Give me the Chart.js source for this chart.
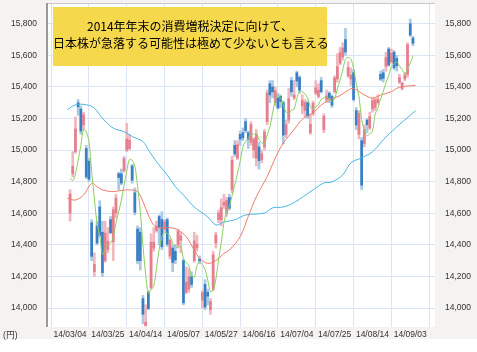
<!DOCTYPE html>
<html><head><meta charset="utf-8">
<script src="https://cdn.jsdelivr.net/npm/chart.js@4.4.0/dist/chart.umd.min.js"></script>
<style>
html,body{margin:0;padding:0;background:#fff;}
#wrap{position:relative;width:477px;height:352px;overflow:hidden;}
canvas{position:absolute;left:0;top:0;}
#title{position:absolute;left:53px;top:7px;width:274px;height:59px;background:#f6d84c;font-family:"Noto Sans CJK JP";font-size:12px;line-height:17px;color:#000;text-align:center;box-sizing:border-box;padding-top:10px;white-space:nowrap;}
#unit{position:absolute;left:3px;top:330px;font-family:"Liberation Sans",Arial,sans-serif;font-size:8.5px;line-height:10px;color:#333;}
</style></head><body>
<div id="wrap"><canvas id="c" width="477" height="352"></canvas>
<div id="title">2014年年末の消費増税決定に向けて、<br>日本株が急落する可能性は極めて少ないとも言える</div>
<div id="unit">(円)</div></div>
<script>
const dates = ["14/03/04","14/03/05","14/03/06","14/03/07","14/03/10","14/03/11","14/03/12","14/03/13","14/03/14","14/03/17","14/03/18","14/03/19","14/03/20","14/03/24","14/03/25","14/03/26","14/03/27","14/03/28","14/03/31",
"14/04/01","14/04/02","14/04/03","14/04/04","14/04/07","14/04/08","14/04/09","14/04/10","14/04/11","14/04/14","14/04/15","14/04/16","14/04/17","14/04/18","14/04/21","14/04/22","14/04/23","14/04/24","14/04/25","14/04/28","14/04/30",
"14/05/01","14/05/02","14/05/07","14/05/08","14/05/09","14/05/12","14/05/13","14/05/14","14/05/15","14/05/16","14/05/19","14/05/20","14/05/21","14/05/22","14/05/23","14/05/26","14/05/27","14/05/28","14/05/29","14/05/30",
"14/06/02","14/06/03","14/06/04","14/06/05","14/06/06","14/06/09","14/06/10","14/06/11","14/06/12","14/06/13","14/06/16","14/06/17","14/06/18","14/06/19","14/06/20","14/06/23","14/06/24","14/06/25","14/06/26","14/06/27","14/06/30",
"14/07/01","14/07/02","14/07/03","14/07/04","14/07/07","14/07/08","14/07/09","14/07/10","14/07/11","14/07/14","14/07/15","14/07/16","14/07/17","14/07/18","14/07/22","14/07/23","14/07/24","14/07/25","14/07/28","14/07/29","14/07/30","14/07/31",
"14/08/01","14/08/04","14/08/05","14/08/06","14/08/07","14/08/08","14/08/11","14/08/12","14/08/13","14/08/14","14/08/15","14/08/18","14/08/19","14/08/20","14/08/21","14/08/22","14/08/25","14/08/26","14/08/27","14/08/28","14/08/29",
"14/09/01","14/09/02","14/09/03","14/09/04"];

const openP = [14600,14850,14990,15300,15260,15160,15010,14930,14540,14230,14520,14640,14480,14300,14370,14560,14420,14600,14850,14850,
14870,15000,15010,14900,14730,14500,14480,14060,13890,14100,14130,14380,14490,14580,14560,14500,14560,14330,14380,14360,
14400,14430,14300,14100,14120,14200,14300,14380,14310,14050,14150,14100,13990,14120,14410,14560,14560,14650,14600,14700,
14750,15030,14950,15100,15110,15180,15110,15050,15000,14950,15020,14940,15020,15180,15420,15400,15300,15330,15340,15300,
15100,15190,15440,15330,15490,15460,15280,15250,15300,15110,15230,15360,15340,15440,15130,15320,15360,15340,15370,15450,
15550,15590,15700,15470,15450,15490,15250,15100,15060,15040,15190,15140,15260,15270,15300,15480,15490,15530,15640,15560,
15620,15580,15430,15390,15450,15480,15800,15710];
const highP = [14750,14990,15210,15320,15280,15240,15030,14950,14560,14350,14550,14680,14550,14550,14510,14580,14640,14720,14860,14880,
14960,15170,15100,14910,14760,14520,14510,14080,14020,14110,14470,14510,14550,14590,14610,14560,14570,14440,14400,14400,
14500,14480,14310,14260,14250,14230,14480,14460,14330,14110,14180,14120,14060,14360,14480,14620,14690,14720,14700,14720,
14960,15060,15060,15120,15140,15200,15120,15180,15080,15130,15050,15000,15130,15380,15440,15440,15400,15360,15350,15310,
15190,15390,15460,15440,15500,15470,15350,15320,15310,15230,15310,15440,15420,15460,15230,15380,15370,15350,15470,15610,
15650,15680,15770,15560,15520,15510,15270,15250,15080,15160,15200,15240,15330,15330,15350,15500,15510,15620,15650,15640,
15630,15600,15480,15430,15490,15680,15830,15720];
const lowP = [14550,14830,14980,15220,15100,15130,14820,14800,14300,14200,14400,14450,14200,14290,14350,14470,14300,14570,14750,14780,
14860,14990,15000,14790,14590,14280,14240,13900,13885,13990,14120,14360,14480,14400,14370,14480,14390,14310,14230,14280,
14380,14350,14020,14090,14100,14130,14290,14360,14280,14000,13990,14020,13960,14110,14380,14540,14520,14630,14580,14620,
14730,14960,14940,15030,15060,15110,15010,15030,14950,14900,14880,14920,15000,15160,15300,15330,15280,15260,15270,15040,
15080,15170,15340,15320,15400,15360,15230,15210,15200,15100,15220,15350,15330,15360,15110,15300,15300,15270,15360,15430,
15540,15570,15600,15460,15410,15310,15130,15070,14750,15020,15110,15130,15240,15250,15290,15440,15430,15500,15530,15550,
15510,15500,15420,15380,15440,15460,15720,15660];
const closeP = [14721,14897,15134,15274,15120,15224,14830,14815,14327,14277,14411,14462,14224,14475,14423,14477,14622,14696,14827,14791,
14946,15071,15063,14809,14606,14299,14300,13960,13910,13996,14417,14417,14516,14512,14388,14546,14404,14429,14288,14304,
14485,14457,14033,14163,14199,14149,14425,14405,14298,14097,14006,14075,14042,14337,14462,14602,14636,14670,14681,14632,
14935,14976,15034,15069,15077,15124,15069,15162,15069,15097,14933,14975,15115,15361,15349,15369,15376,15266,15308,15095,
15162,15326,15369,15348,15437,15379,15314,15302,15216,15164,15297,15395,15379,15370,15215,15343,15328,15284,15457,15529,
15618,15646,15621,15523,15474,15320,15159,15232,14778,15130,15161,15213,15314,15318,15322,15449,15454,15586,15539,15613,
15521,15534,15459,15424,15476,15668,15728,15676];

const ma5 = [14822,14807,14849,14936,15029,15130,15116,15053,14863,14695,14532,14458,14340,14370,14399,14412,14444,14539,14609,14683,
14776,14866,14940,14936,14899,14770,14615,14395,14215,14093,14117,14140,14251,14372,14450,14476,14473,14456,14411,14394,
14382,14393,14313,14288,14267,14200,14194,14268,14295,14275,14246,14176,14104,14111,14184,14304,14416,14541,14610,14644,
14711,14779,14852,14929,15018,15056,15075,15100,15100,15104,15066,15047,15038,15096,15147,15234,15314,15344,15334,15283,
15241,15231,15252,15260,15328,15372,15369,15356,15330,15275,15259,15275,15290,15321,15331,15340,15327,15308,15325,15388,
15443,15507,15574,15587,15576,15517,15419,15342,15193,15124,15092,15103,15119,15227,15266,15323,15371,15426,15470,15528,
15543,15559,15533,15510,15483,15512,15551,15594];

const ma25Idx = [-1,2,5,8,10,12,16,19,22,25,27,29,31,33,37,40,43,46,48,51,54,57,59,63,66,69,73,76,79,83,86,90,93,96,100,103,105,109,112,115,119,122,128];
const ma25 = [14695,14684,14716,14790,14769,14748,14737,14745,14748,14737,14674,14589,14526,14509,14509,14494,14452,14367,14315,14283,14300,14346,14367,14452,14579,14705,14832,14950,15045,15130,15195,15235,15285,15318,15345,15380,15390,15350,15329,15348,15370,15398,15410];

const ma75Idx = [-1,2,6,9,12,16,20,23,27,29,32,36,39,42,46,51,54,57,61,65,72,75,79,83,90,94,97,101,104,108,112,116,121,128];
const ma75 = [15255,15287,15287,15266,15202,15139,15117,15086,15054,15001,14927,14843,14769,14716,14640,14577,14526,14545,14558,14589,14602,14634,14640,14668,14748,14792,14798,14843,14919,14951,14989,15065,15147,15250];

const tickIdx = [0,14,28,42,56,70,84,98,112,126];
const yTicks = [14000,14200,14400,14600,14800,15000,15200,15400,15600,15800];

const UP_BODY = '#e57f8e', UP_WICK = '#f2b6be', DN_BODY = '#3a7fc1', DN_WICK = '#a9c9e5';
const isUp = i => closeP[i] >= openP[i];

const bgPlugin = {
  id: 'bg',
  beforeDraw(chart) {
    const {ctx, chartArea: a} = chart;
    ctx.save();
    ctx.fillStyle = '#f4f3f1';
    ctx.fillRect(0, 0, chart.width, 339);
    ctx.fillStyle = '#ffffff';
    ctx.fillRect(a.left, a.top, a.right - a.left, a.bottom - a.top);
    ctx.restore();
  },
  afterDraw(chart) {
    const {ctx, chartArea: a} = chart;
    ctx.save();
    ctx.strokeStyle = '#9a9a9a';
    ctx.lineWidth = 2;
    ctx.beginPath();
    ctx.moveTo(a.left - 1, a.bottom);
    ctx.lineTo(a.left - 1, a.top - 1);
    ctx.stroke();
    ctx.strokeStyle = '#c8c8c8';
    ctx.lineWidth = 1;
    ctx.beginPath();
    ctx.moveTo(a.left, a.top - 0.5);
    ctx.lineTo(a.right, a.top - 0.5);
    ctx.stroke();
    ctx.restore();
  }
};

const noPad = ax => { ax.paddingTop = 0; ax.paddingBottom = 0; ax.paddingLeft = 0; ax.paddingRight = 0; };
const yCommon = {
  type: 'linear', min: 13880, max: 15925,
  afterBuildTicks: ax => { ax.ticks = yTicks.map(v => ({value: v})); },
  border: {display: false},
};

new Chart(document.getElementById('c'), {
  type: 'bar',
  data: {
    datasets: [
      {type: 'line', label: 'MA5', data: ma5.map((v, i) => ({x: i, y: v})), borderColor: '#8ccf62', borderWidth: 1, pointRadius: 0, tension: 0.35, order: 0},
      {type: 'line', label: 'MA25', data: ma25Idx.map((x, k) => ({x: x, y: ma25[k]})), borderColor: '#f27b68', borderWidth: 1, pointRadius: 0, tension: 0.35, order: 0},
      {type: 'line', label: 'MA75', data: ma75Idx.map((x, k) => ({x: x, y: ma75[k]})), borderColor: '#4bb6e8', borderWidth: 1, pointRadius: 0, tension: 0.35, order: 0},
      {label: 'body', data: dates.map((d, i) => ({x: i, y: [openP[i], closeP[i]]})), backgroundColor: c => isUp(c.dataIndex) ? UP_BODY : DN_BODY, barThickness: 2, grouped: false, borderWidth: 0, order: 1},
      {label: 'wick', data: dates.map((d, i) => ({x: i, y: [lowP[i], highP[i]]})), backgroundColor: c => isUp(c.dataIndex) ? UP_WICK : DN_WICK, barThickness: 2, grouped: false, borderWidth: 0, order: 2}
    ]
  },
  options: {
    responsive: false, animation: false,
    layout: {padding: {top: 4, left: 0, right: 0, bottom: 0}},
    plugins: {legend: {display: false}, tooltip: {enabled: false}},
    scales: {
      x: {
        type: 'linear', min: -1, max: 128,
        afterBuildTicks: ax => { ax.ticks = tickIdx.map(v => ({value: v})); },
        afterFit: ax => { ax.height = 25; noPad(ax); },
        grid: {color: '#dbe4f3', lineWidth: 1, drawTicks: false},
        border: {display: false},
        ticks: {autoSkip: false, maxRotation: 0, minRotation: 0, padding: 3, color: '#333',
          font: {family: 'Liberation Sans, Arial, sans-serif', size: 8.5},
          callback: v => dates[v]}
      },
      y: Object.assign({}, yCommon, {
        position: 'left',
        afterFit: ax => { ax.width = 48; noPad(ax); },
        grid: {color: '#dbe4f3', lineWidth: 1, drawTicks: false},
        ticks: {padding: 11, color: '#333', font: {family: 'Liberation Sans, Arial, sans-serif', size: 8.5},
          callback: v => v.toLocaleString('en-US')}
      }),
      y2: Object.assign({}, yCommon, {
        position: 'right',
        afterFit: ax => { ax.width = 42; noPad(ax); },
        grid: {display: false, drawTicks: false},
        ticks: {padding: 10, color: '#333', font: {family: 'Liberation Sans, Arial, sans-serif', size: 8.5},
          callback: v => v.toLocaleString('en-US')}
      })
    }
  },
  plugins: [bgPlugin]
});
</script>
</body></html>
